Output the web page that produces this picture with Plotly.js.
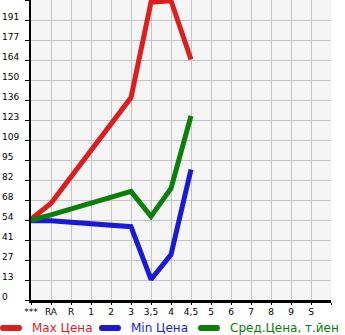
<!DOCTYPE html>
<html><head><meta charset="utf-8">
<script src="https://cdn.plot.ly/plotly-3.0.1.min.js"></script>
<style>html,body{margin:0;padding:0;background:#fff}#c{width:345px;height:335px}</style>
</head><body><div id="c"></div>
<script>
const categories = ['***','RA','R','1','2','3','3,5','4','4,5','5','6','7','8','9','S'];
const maxPrice = [55, 66, null, null, null, 138, 203, 204, 164, null, null, null, null, null, null];
const minPrice = [54, 54, null, null, null, 50, 14, 31, 89, null, null, null, null, null, null];
const avgPrice = [54.5, 58, null, null, null, 74, 57, 76, 125.5, null, null, null, null, null, null];
const yTickLabels = ['0','13','27','41','54','68','82','95','109','123','136','150','164','177','191'];
const yStep = 150/11;
const seriesNames = ['Max Цена','Min Цена','Сред.Цена, т.йен'];
const colors = ['#dc1e1e','#1a1ad6','#0a800a'];

const PW = 300, PH = 300, ML = 31;
const xIdx = categories.map((c,i)=>i);
function tr(vals, name, color){
  return {x: xIdx, y: vals, name: name, type:'scatter', mode:'lines', connectgaps:true,
    line:{color:color, width:5}, hoverinfo:'skip', showlegend:false};
}
const data = [tr(maxPrice, seriesNames[0], colors[0]), tr(minPrice, seriesNames[1], colors[1]), tr(avgPrice, seriesNames[2], colors[2])];

const yVals = yTickLabels.map((t,i)=>i*yStep);
const annotations = yTickLabels.map((t,i)=>({xref:'paper', yref:'y', x:-ML/PW, y:yVals[i], xanchor:'left', yanchor:'middle',
  text:t, showarrow:false, yshift:3, font:{family:'DejaVu Sans', size:9, color:'#000'}}));

// legend built by hand (px positions converted to paper coords)
const legY = (PH - 328)/PH;
const shapes = [];
seriesNames.forEach((n,i)=>{
  const x0 = i*99;
  shapes.push({type:'line', xref:'paper', yref:'paper', x0:(x0+2-ML)/PW, x1:(x0+20-ML)/PW, y0:legY, y1:legY,
    line:{color:colors[i], width:6}});
  shapes.push({type:'circle', xref:'paper', yref:'paper', x0:(x0-ML)/PW, x1:(x0+6-ML)/PW, y0:legY-3/PH, y1:legY+3/PH,
    fillcolor:colors[i], line:{width:0}});
  shapes.push({type:'circle', xref:'paper', yref:'paper', x0:(x0+16-ML)/PW, x1:(x0+22-ML)/PW, y0:legY-3/PH, y1:legY+3/PH,
    fillcolor:colors[i], line:{width:0}});
  annotations.push({xref:'paper', yref:'paper', x:(x0+30-ML)/PW, y:legY, xanchor:'left', yanchor:'middle',
    text:n, showarrow:false, font:{family:'DejaVu Sans', size:12, color:colors[i]}});
});

const layout = {
  width:345, height:335,
  margin:{l:ML, r:14, t:0, b:35, pad:0},
  paper_bgcolor:'#ffffff', plot_bgcolor:'#f5f5f5',
  showlegend:false,
  xaxis:{range:[0,15], tickmode:'array', tickvals:xIdx.concat([15]), ticktext:categories.concat(['']),
    showgrid:true, gridcolor:'#c4c4c4', gridwidth:1, zeroline:false,
    showline:true, linecolor:'#000', linewidth:2.5, ticks:'outside', ticklen:2, tickcolor:'#000',
    tickfont:{family:'DejaVu Sans', size:9, color:'#000'}, fixedrange:true},
  yaxis:{range:[0, 15*yStep], tickmode:'array', tickvals:yVals.concat([15*yStep]), ticktext:yTickLabels.map(()=> '').concat(['']),
    showgrid:true, gridcolor:'#c4c4c4', gridwidth:1, zeroline:false,
    showline:true, linecolor:'#000', linewidth:2.5, ticks:'outside', ticklen:4, tickcolor:'#000', fixedrange:true},
  annotations: annotations,
  shapes: shapes
};
Plotly.newPlot('c', data, layout, {displayModeBar:false, staticPlot:true});
</script></body></html>
